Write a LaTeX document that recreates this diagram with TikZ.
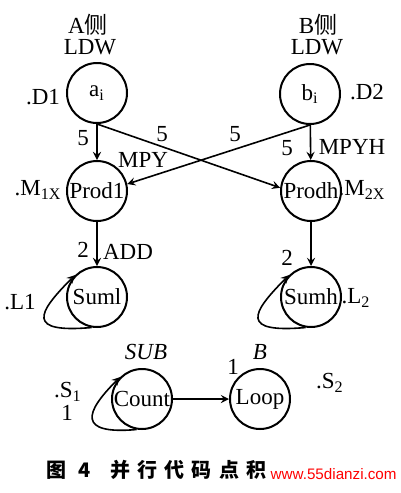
\documentclass[tikz,border=0pt]{standalone}
\usepackage{fontspec}
\setmainfont{Liberation Serif}
\newfontfamily\cjk{Noto Sans CJK SC}
\newfontfamily\capfont[LetterSpace=36]{Noto Sans CJK SC}
\newfontfamily\wmfont{Liberation Sans}
\usepackage{tikz}
\usetikzlibrary{arrows, positioning}
\tikzstyle{state} = [circle, draw=black, line width=1pt, minimum size=30pt, inner sep=0pt, font=\fontsize{11.5}{13}\selectfont]
\tikzstyle{lbl} = [inner sep=1pt, font=\fontsize{11.5}{13}\selectfont]
\tikzstyle{arrow} = [line width=0.8pt,->,>=stealth]

\begin{document}
\begin{tikzpicture}[x=0.5pt, y=0.5pt]
        \useasboundingbox (0,0) rectangle (401,-493);
        % states
        \node (ai) [state] at (97,-93) {a\textsubscript{i}};
        \node (bi) [state] at (310,-94) {b\textsubscript{i}};
        \node (prod1) [state] at (97,-191) {Prod1};
        \node (prodh) [state] at (311,-191) {Prodh};
        \node (suml) [state] at (97,-297) {Suml};
        \node (sumh) [state] at (311,-297) {Sumh};
        \node (count) [state] at (142,-399) {Count};
        \node (loop) [state] at (260,-399) {Loop};

        % labels
        \node (sidea) [lbl] at (88,-25) {A{\cjk 侧}};
        \node (ldwa) [lbl] at (90,-47) {LDW};
        \node (sideb) [lbl] at (318,-25) {B{\cjk 侧}};
        \node (ldwb) [lbl] at (317,-47) {LDW};
        \node (d1) [lbl] at (43,-97) {.D1};
        \node (d2) [lbl] at (367,-92) {.D2};
        \node (n5a) [lbl] at (83,-138) {5};
        \node (n5b) [lbl] at (162,-134) {5};
        \node (mpy) [lbl] at (143,-160) {MPY};
        \node (n5c) [lbl] at (235,-134) {5};
        \node (n5d) [lbl] at (287,-148) {5};
        \node (mpyh) [lbl] at (352,-147) {MPYH};
        \node (m1x) [lbl] at (38,-190) {.M\textsubscript{1X}};
        \node (m2x) [lbl] at (362,-190) {.M\textsubscript{2X}};
        \node (n2a) [lbl] at (83,-250) {2};
        \node (add) [lbl] at (128,-252) {ADD};
        \node (n2b) [lbl] at (287,-258) {2};
        \node (l1) [lbl] at (20,-302) {.L1};
        \node (l2) [lbl] at (356,-298) {.L\textsubscript{2}};
        \node (sub) [lbl] at (146,-352) {\textit{SUB}};
        \node (br) [lbl] at (260,-352) {\textit{B}};
        \node (s1) [lbl] at (68,-392) {.S\textsubscript{1}};
        \node (n1a) [lbl] at (67,-413) {1};
        \node (n1b) [lbl] at (233,-367) {1};
        \node (s2) [lbl] at (330,-383) {.S\textsubscript{2}};

        % edges
        \draw [arrow] (ai) -- (prod1);
        \draw [arrow] (bi) -- (prodh);
        \draw [arrow] (ai.south) -- (prodh.174);
        \draw [arrow] (bi.south) -- (prod1.13);
        \draw [arrow] (prod1) -- (suml);
        \draw [arrow] (prodh) -- (sumh);
        \draw [arrow] (count) -- (loop);
        \draw [arrow] (suml.-100) .. controls +(185:65) and +(225:55) .. (suml.135);
        \draw [arrow] (sumh.-100) .. controls +(185:65) and +(225:55) .. (sumh.135);
        \draw [arrow] (count.-100) .. controls +(185:60) and +(225:50) .. (count.135);

        % caption
        \node (cap) [anchor=west, inner sep=0pt, font=\fontsize{10}{12}\selectfont] at (46,-470) {\capfont\bfseries 图 4\hspace{10pt}并行代码点积};
        \node (wm) [anchor=east, fill=white, text=red, text width=64pt, align=right, minimum height=14pt, inner sep=1pt, font=\wmfont\fontsize{7.6}{9}\selectfont] at (399,-474) {www.55dianzi.com};
    \end{tikzpicture}
\end{document}
